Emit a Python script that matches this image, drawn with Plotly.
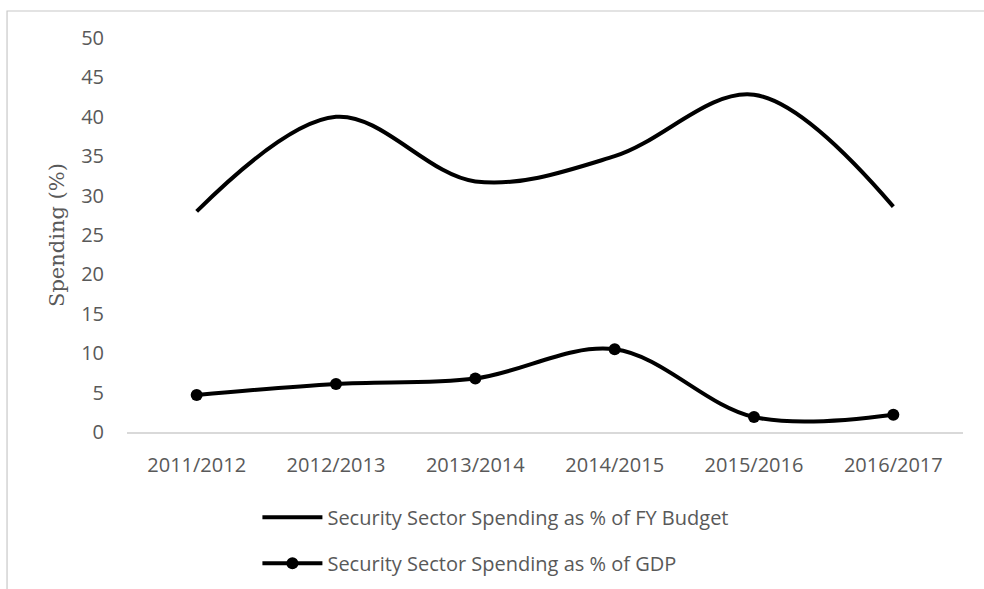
import plotly.graph_objects as go

# Fiscal years and security sector spending shares (%)
years = ["2011/2012", "2012/2013", "2013/2014", "2014/2015", "2015/2016", "2016/2017"]
pct_budget = [28.0, 40.0, 31.8, 35.0, 42.8, 28.6]
pct_gdp = [4.7, 6.1, 6.8, 10.5, 1.9, 2.2]

name_budget = "Security Sector Spending as % of FY Budget"
name_gdp = "Security Sector Spending as % of GDP"
y_ticks = list(range(0, 51, 5))

GRAY = "#595959"
TICK_FONT = dict(family="Open Sans", size=20, color=GRAY)

fig = go.Figure()
fig.add_trace(go.Scatter(
    x=years, y=pct_budget, name=name_budget, mode="lines",
    line=dict(color="black", width=4, shape="spline", smoothing=1.0),
    legendgroup="a",
))
fig.add_trace(go.Scatter(
    x=years, y=pct_gdp, name=name_gdp, mode="lines+markers",
    line=dict(color="black", width=4, shape="spline", smoothing=1.0),
    marker=dict(color="black", size=12, symbol="circle"),
    legendgroup="b",
))

# outer chart frame (top and left edges visible)
fig.add_shape(type="rect", xref="paper", yref="paper",
              x0=-0.1435, x1=2.0, y0=-2.0, y1=1.0685,
              line=dict(color="#c8c8c8", width=1.2), fillcolor="rgba(0,0,0,0)",
              layer="below")

fig.update_layout(
    width=984, height=589,
    margin=dict(l=127, r=21, t=38, b=157, autoexpand=False),
    paper_bgcolor="white", plot_bgcolor="white",
    showlegend=True,
    legend=dict(
        x=0.156, xanchor="left", yref="container", y=0.155, yanchor="top",
        orientation="v", traceorder="grouped", tracegroupgap=17,
        font=dict(family="Open Sans", size=20, color=GRAY),
        bgcolor="rgba(0,0,0,0)", itemwidth=60,
    ),
    xaxis=dict(
        type="category", showgrid=False, zeroline=False,
        showline=True, linecolor="#d9d9d9", linewidth=1.5,
        ticks="", tickfont=TICK_FONT, ticklabelstandoff=14,
        range=[-0.5, 5.5],
    ),
    yaxis=dict(
        range=[0, 50], tickvals=y_ticks, showgrid=False, zeroline=False,
        showline=False, ticks="", tickfont=TICK_FONT, ticklabelstandoff=22,
        title=dict(text="Spending (%)", standoff=10,
                   font=dict(family="DejaVu Serif", size=21, color=GRAY)),
    ),
)

fig.write_html("out.html")
